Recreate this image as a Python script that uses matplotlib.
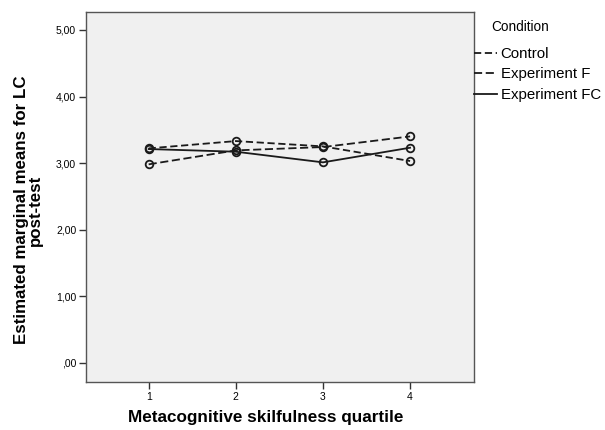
import numpy as np
import matplotlib
matplotlib.use("Agg")
from matplotlib import pyplot as plt
from matplotlib.ticker import FuncFormatter

plt.rcParams['font.family'] = ['Liberation Sans', 'DejaVu Sans']

quartiles = [1, 2, 3, 4]
control = [3.22, 3.33, 3.25, 3.03]
experiment_f = [2.98, 3.19, 3.24, 3.40]
experiment_fc = [3.21, 3.17, 3.01, 3.23]


def comma_fmt(v, pos):
    s = '%.2f' % v
    if s.startswith('0.'):
        s = s[1:]
    return s.replace('.', ',')


fig = plt.figure(figsize=(6.05, 4.3), dpi=100)
ax = fig.add_axes([0.142, 0.112, 0.641, 0.860])
ax.set_facecolor('#f0f0f0')

style = dict(color='#1a1a1a', lw=1.3, marker='o', ms=5.5, mfc='none', mec='#1a1a1a', mew=1.3)
ax.plot(quartiles, control, ls=(0, (4, 2)), label='Control', **style)
ax.plot(quartiles, experiment_f, ls=(0, (4.5, 2)), label='Experiment F', **style)
ax.plot(quartiles, experiment_fc, ls='-', label='Experiment FC', **style)

ax.set_xlim(0.28, 4.73)
ax.set_ylim(-0.29, 5.27)
ax.set_xticks(quartiles)
ax.set_yticks([0, 1, 2, 3, 4, 5])
ax.yaxis.set_major_formatter(FuncFormatter(comma_fmt))
ax.tick_params(labelsize=7.5, length=5, width=1, color='#333333', direction='out', pad=2)
for s in ax.spines.values():
    s.set_color('#555555')
    s.set_linewidth(1)

ax.set_xlabel('Metacognitive skilfulness quartile', fontsize=12.3, fontweight='bold')
ax.xaxis.set_label_coords(0.463, -0.075)
ax.set_ylabel('Estimated marginal means for LC\npost-test', fontsize=12.2, fontweight='bold', linespacing=0.85)
ax.yaxis.set_label_coords(-0.112, 0.465)

# legend: title placed separately so the gap above the entries can be set
fig.text(520 / 605, 1 - 27 / 430, 'Condition', fontsize=9.8, ha='center', va='center')
leg = ax.legend(loc='upper left', bbox_to_anchor=(1.0, 1 - 35 / 370), frameon=False, fontsize=10.8,
                handlelength=1.55, handletextpad=0.25, borderaxespad=0, borderpad=0,
                labelspacing=0.43)
for h in leg.get_lines():
    h.set_marker('')

fig.savefig('out.png', dpi=100)
